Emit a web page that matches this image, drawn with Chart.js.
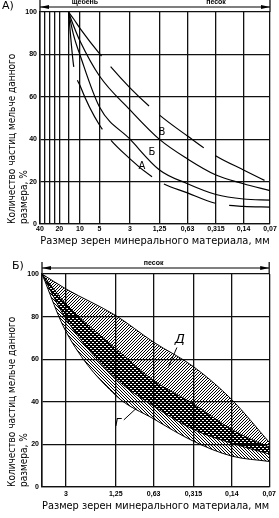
<!DOCTYPE html>
<html lang="ru">
<head>
<meta charset="utf-8">
<title>Гранулометрический состав</title>
<script src="https://cdn.jsdelivr.net/npm/chart.js@4.4.1/dist/chart.umd.min.js"></script>
<style>
  html, body { margin: 0; padding: 0; background: #fff; }
  canvas { display: block; }
</style>
</head>
<body>
<canvas id="chartA" width="279" height="252"></canvas>
<canvas id="chartB" width="279" height="266"></canvas>
<script>
// ---- panel A: curves А, Б, В ----
const sievesA = [40, 35, 30, 25, 20, 15, 10, 5, 3, 1.25, 0.63, 0.315, 0.14, 0.07];
const tickTextA = ['40', '', '', '', '20', '', '10', '5', '3', '1,25', '0,63', '0,315', '0,14', '0,07'];
// place of every sieve on the printed axis (axis units, left edge = 0)
const slotA = [0, 4.7, 9.3, 14.3, 19.3, 28.5, 40, 59.5, 90, 119.5, 147.5, 176, 203.5, 230];

const sizesA = [15, 12.5, 10, 5, 3, 1.25, 0.63, 0.315, 0.14, 0.07];
const upperA = [100, 96.7, 92.3, 80.4, 64.2, 51.4, 41.5, 32.1, 25.5, 19.3];
const curveV = [100, 93.4, 86.3, 69.8, 53.8, 39.9, 30.7, 23.1, 19, 15.7];
const curveB = [100, 89, 79.7, 55.2, 40, 25.5, 19, 13.9, 11.8, 11.3];
const lowerA = [100, 74.5, 65.3, 46.7, 30.7, 20, 14.7, 9.7, 8.3, 8];

// ---- panel B: zones Г and Д (they overlap between topG and lowD) ----
const sievesB = [5, 3, 1.25, 0.63, 0.315, 0.14, 0.07];
const tickTextB = ['', '3', '1,25', '0,63', '0,315', '0,14', '0,07'];
const slotB = [0, 24, 74, 112, 152, 190.5, 228];
const topD = [100, 93, 80.5, 68, 56.5, 41, 21];
const topG = [100, 86, 65, 50, 39, 27, 18.5];
const lowD = [100, 79, 51, 38, 27, 20.5, 15.5];
const lowG = [100, 73, 43, 32, 21.5, 14.5, 12];

const yTitle = ['Количество частиц мельче данного', 'размера, %'];
const xTitle = 'Размер зерен минерального материала, мм';

const tickFont = { family: '"Liberation Sans", "DejaVu Sans", sans-serif', size: 7, weight: 'bold' };
const xTitleFont = { family: '"DejaVu Sans Condensed", "DejaVu Sans", sans-serif', size: 11 };
const yTitleFont = { family: '"DejaVu Sans Condensed", "DejaVu Sans", sans-serif', size: 10, lineHeight: 1.25 };

// sieve size (mm) -> place on the printed axis, log-interpolated between sieves
function slotOf(mm, sieves, slots) {
  for (let i = 0; i < sieves.length - 1; i++) {
    const a = sieves[i], b = sieves[i + 1];
    if (mm <= a && mm >= b) {
      const t = Math.log(a / mm) / Math.log(a / b);
      return slots[i] + t * (slots[i + 1] - slots[i]);
    }
  }
  return mm > sieves[0] ? slots[0] : slots[slots.length - 1];
}

function points(sizes, vals, sieves, slots) {
  return sizes.map((s, i) => ({ x: slotOf(s, sieves, slots), y: vals[i] }));
}

// hatch tiles: 'fwd' = ////, 'back' = \\\\, 'cross' = dense overlap of both
function hatch(kind) {
  const n = kind === 'cross' ? 4 : 3;
  const c = document.createElement('canvas');
  c.width = n; c.height = n;
  const g = c.getContext('2d');
  g.fillStyle = '#000';
  for (let i = 0; i < n; i++) {
    for (let j = 0; j < n; j++) {
      const f = (i + j) % n, b = (i - j + n) % n;
      let ink;
      if (kind === 'fwd') ink = f === 0;
      else if (kind === 'back') ink = b === 0;
      else ink = f < 2 || b < 2;
      if (ink) g.fillRect(i, j, 1, 1);
    }
  }
  return g.createPattern(c, 'repeat');
}

// header arrow, panel tag and curve letters
function marks(sieves, slots, cfg) {
  return {
    id: 'marks' + cfg.tag,
    afterDraw(chart) {
      const { ctx, chartArea: { left, right, top }, scales: { x, y } } = chart;
      const px = mm => x.getPixelForValue(slotOf(mm, sieves, slots));
      ctx.save();
      ctx.strokeStyle = '#000';
      ctx.fillStyle = '#000';
      ctx.lineWidth = 1.2;
      ctx.beginPath();
      ctx.moveTo(left, top - 12); ctx.lineTo(left, top);
      ctx.moveTo(right, top - 12); ctx.lineTo(right, top);
      ctx.moveTo(left, cfg.arrowY); ctx.lineTo(right, cfg.arrowY);
      ctx.stroke();
      ctx.beginPath();
      ctx.moveTo(left, cfg.arrowY); ctx.lineTo(left + 9, cfg.arrowY - 2); ctx.lineTo(left + 9, cfg.arrowY + 2);
      ctx.moveTo(right, cfg.arrowY); ctx.lineTo(right - 9, cfg.arrowY - 2); ctx.lineTo(right - 9, cfg.arrowY + 2);
      ctx.fill();

      ctx.font = 'bold 7px "Liberation Sans", sans-serif';
      ctx.textAlign = 'center';
      ctx.textBaseline = 'bottom';
      cfg.zones.forEach(z => ctx.fillText(z.text, px(z.mm), cfg.arrowY - 1));

      ctx.font = '11px "DejaVu Sans", sans-serif';
      ctx.textAlign = 'left';
      ctx.textBaseline = 'top';
      ctx.fillText(cfg.tag, cfg.tagX, cfg.tagY);

      ctx.textAlign = 'center';
      ctx.textBaseline = 'middle';
      ctx.lineWidth = 1;
      cfg.letters.forEach(l => {
        ctx.font = l.font;
        ctx.fillText(l.text, px(l.mm), y.getPixelForValue(l.pct));
        if (l.lead) {
          ctx.beginPath();
          ctx.moveTo(px(l.lead[0]), y.getPixelForValue(l.lead[1]));
          ctx.lineTo(px(l.lead[2]), y.getPixelForValue(l.lead[3]));
          ctx.stroke();
        }
      });
      ctx.restore();
    }
  };
}

function scalesFor(slots, texts, yWidth, xHeight, tickPad, titlePad) {
  return {
    x: {
      type: 'linear',
      min: 0,
      max: slots[slots.length - 1],
      afterBuildTicks: s => { s.ticks = slots.map(v => ({ value: v })); },
      afterFit: s => { s.height = xHeight; },
      ticks: {
        autoSkip: false, maxRotation: 0, padding: tickPad,
        color: '#000', font: tickFont,
        callback: (v, i) => texts[i]
      },
      grid: { color: '#111', lineWidth: 1.3, drawTicks: false },
      border: { color: '#111', width: 1.3 },
      title: { display: true, text: xTitle, color: '#000', font: xTitleFont, padding: { top: 0, bottom: titlePad } }
    },
    y: {
      min: 0, max: 100,
      afterFit: s => { s.width = yWidth; },
      ticks: { stepSize: 20, padding: 3, color: '#000', font: tickFont },
      grid: { color: '#111', lineWidth: 1.3, drawTicks: false },
      border: { color: '#111', width: 1.5 },
      title: { display: true, text: yTitle, align: 'start', color: '#000', font: yTitleFont, padding: { top: 6, bottom: 0 } }
    }
  };
}

const baseLine = { borderColor: '#000', borderWidth: 1.2, pointRadius: 0, cubicInterpolationMode: 'monotone', fill: false };

new Chart(document.getElementById('chartA'), {
  type: 'line',
  data: {
    datasets: [
      { ...baseLine, data: points(sizesA, upperA, sievesA, slotA), borderDash: [55, 14] },
      { ...baseLine, data: points(sizesA, curveV, sievesA, slotA) },
      { ...baseLine, data: points(sizesA, curveB, sievesA, slotA) },
      { ...baseLine, data: points(sizesA, lowerA, sievesA, slotA), borderDash: [55, 14] }
    ]
  },
  options: {
    responsive: false,
    animation: false,
    devicePixelRatio: 1,
    layout: { padding: { top: 12, right: 9, left: 0, bottom: 0 } },
    plugins: { legend: { display: false }, tooltip: { enabled: false } },
    scales: scalesFor(slotA, tickTextA, 40, 28, 1, 4)
  },
  plugins: [marks(sievesA, slotA, {
    tag: 'А)', tagX: 2, tagY: 1, arrowY: 7,
    zones: [{ text: 'щебень', mm: 8.4 }, { text: 'песок', mm: 0.315 }],
    letters: [
      { text: 'В', mm: 1.18, pct: 43, font: '10px "DejaVu Sans", sans-serif' },
      { text: 'Б', mm: 1.56, pct: 34, font: '10px "DejaVu Sans", sans-serif' },
      { text: 'А', mm: 2.1, pct: 27, font: '10px "DejaVu Sans", sans-serif' }
    ]
  })]
});

const edge = { ...baseLine, borderWidth: 1 };

new Chart(document.getElementById('chartB'), {
  type: 'line',
  data: {
    datasets: [
      // Д only
      { ...edge, data: points(sievesB, topD, sievesB, slotB), fill: '+1', backgroundColor: hatch('fwd') },
      // Д and Г together
      { ...edge, data: points(sievesB, topG, sievesB, slotB), fill: '+1', backgroundColor: hatch('cross') },
      // Г only
      { ...edge, data: points(sievesB, lowD, sievesB, slotB), fill: '+1', backgroundColor: hatch('back') },
      { ...edge, data: points(sievesB, lowG, sievesB, slotB) }
    ]
  },
  options: {
    responsive: false,
    animation: false,
    devicePixelRatio: 1,
    layout: { padding: { top: 22, right: 9, left: 0, bottom: 0 } },
    plugins: { legend: { display: false }, tooltip: { enabled: false } },
    scales: scalesFor(slotB, tickTextB, 42, 31, 3, 5)
  },
  plugins: [marks(sievesB, slotB, {
    tag: 'Б)', tagX: 12, tagY: 9, arrowY: 16,
    zones: [{ text: 'песок', mm: 0.63 }],
    letters: [
      { text: 'Д', mm: 0.4, pct: 69, font: 'italic 13px "DejaVu Sans", sans-serif', lead: [0.49, 56, 0.42, 65.5] },
      { text: 'Г', mm: 1.2, pct: 30, font: 'italic 11px "DejaVu Sans", sans-serif', lead: [1.08, 31.5, 0.86, 37] }
    ]
  })]
});
</script>
</body>
</html>
